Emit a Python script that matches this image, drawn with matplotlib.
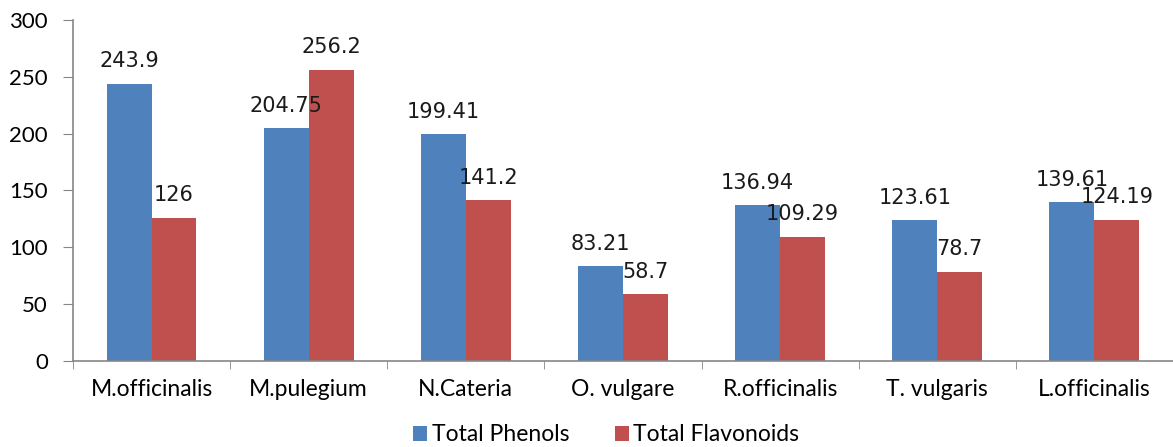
import matplotlib.pyplot as plt
import numpy as np

# data
species = ['M.officinalis', 'M.pulegium', 'N.Cateria', 'O. vulgare',
           'R.officinalis', 'T. vulgaris', 'L.officinalis']
phenols = [243.9, 204.75, 199.41, 83.21, 136.94, 123.61, 139.61]
flavonoids = [126, 256.2, 141.2, 58.7, 109.29, 78.7, 124.19]
phenol_labels = ['243.9', '204.75', '199.41', '83.21', '136.94', '123.61', '139.61']
flav_labels = ['126', '256.2', '141.2', '58.7', '109.29', '78.7', '124.19']

blue = '#4F81BD'
red = '#C0504D'
axis_col = '#868686'

fig = plt.figure(figsize=(11.73, 4.47), dpi=100)
ax = fig.add_axes([0.0622, 0.1924, 0.9378, 0.7629])

x = np.arange(len(species))
w = 0.286
b1 = ax.bar(x - w / 2, phenols, w, color=blue, label='Total Phenols')
b2 = ax.bar(x + w / 2, flavonoids, w, color=red, label='Total Flavonoids')

for bars, labels in ((b1, phenol_labels), (b2, flav_labels)):
    for rect, lab in zip(bars, labels):
        ax.annotate(lab, (rect.get_x() + rect.get_width() / 2, rect.get_height()),
                    xytext=(0, 9), textcoords='offset points',
                    ha='center', va='bottom', fontsize=15,
                    family='DejaVu Sans', color='#1a1a1a')

ax.set_ylim(0, 300)
ax.set_yticks(range(0, 301, 50))
ax.set_xlim(-0.5, 6.405)

# category labels in the middle, ticks on the boundaries
ax.set_xticks(x)
ax.set_xticklabels(species, fontsize=16.5, family='Lato')
ax.set_xticks(np.arange(-0.5, 7, 1), minor=True)
ax.tick_params(axis='x', which='major', length=0, pad=13)
ax.tick_params(axis='x', which='minor', length=6, color=axis_col, direction='out')
ax.tick_params(axis='y', length=7, color=axis_col, pad=11, labelsize=16)
for t in ax.get_yticklabels():
    t.set_family('Lato')

for s in ['top', 'right']:
    ax.spines[s].set_visible(False)
for s in ['left', 'bottom']:
    ax.spines[s].set_color(axis_col)
    ax.spines[s].set_linewidth(1.2)

leg = fig.legend(handles=[b1, b2], loc='center', bbox_to_anchor=(0.517, 0.027),
                 ncol=2, frameon=False, prop={'family': 'Lato', 'size': 16.5},
                 handlelength=0.6, handleheight=0.6, handletextpad=0.2,
                 columnspacing=2.0)

fig.savefig('out.png', dpi=100)
